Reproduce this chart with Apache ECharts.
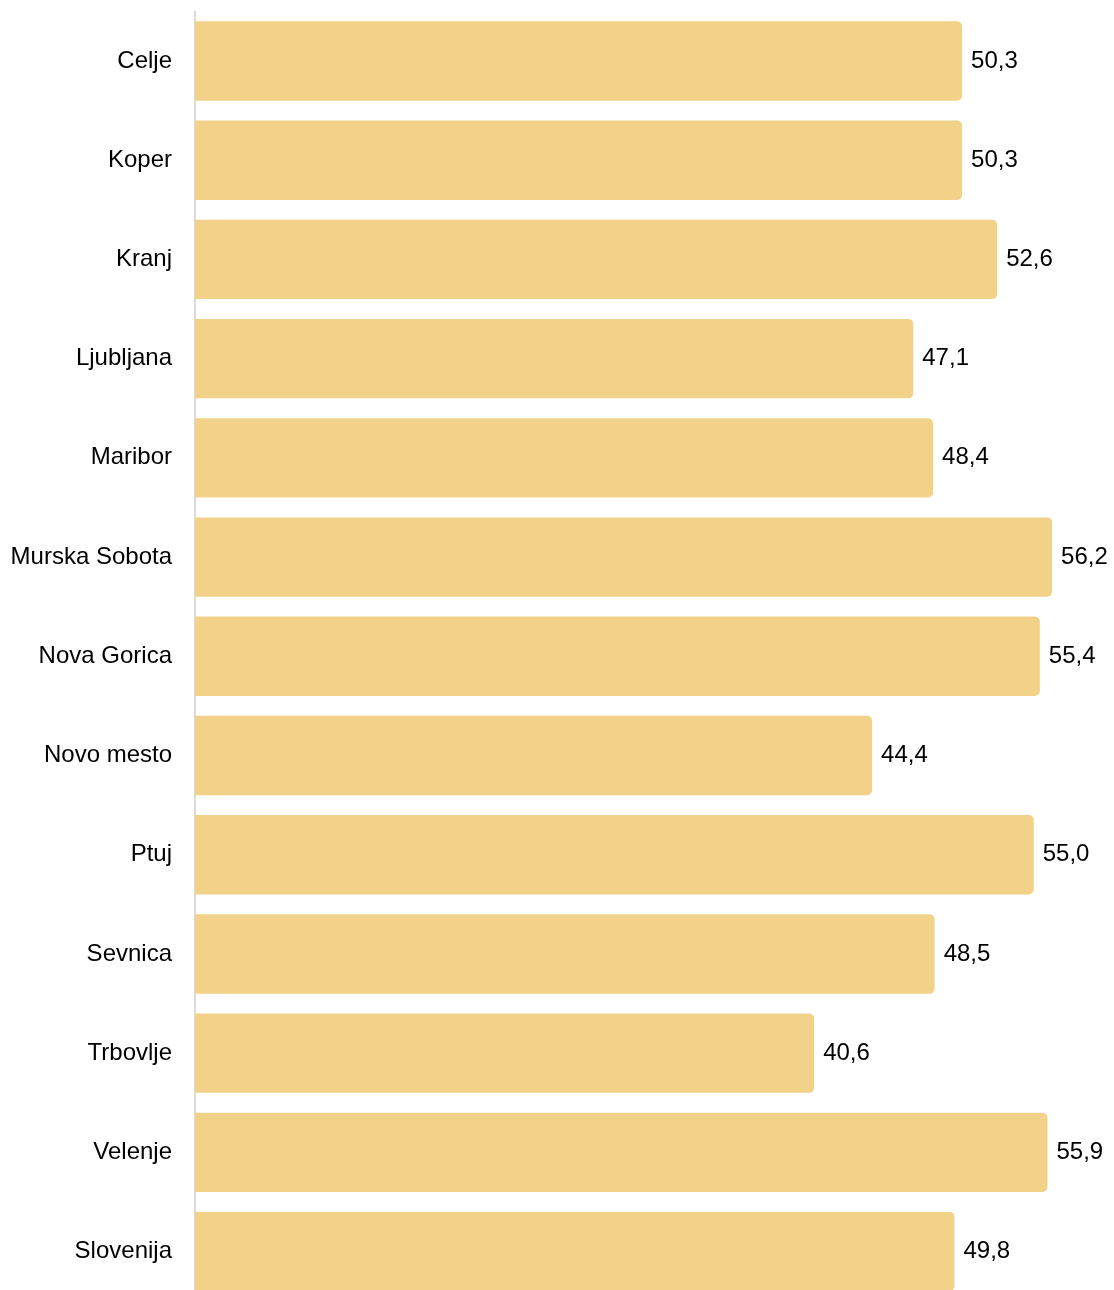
<!DOCTYPE html>
<html>
<head>
<meta charset="utf-8">
<script src="https://cdn.jsdelivr.net/npm/echarts@6/dist/echarts.min.js"></script>
<style>
html,body{margin:0;padding:0;background:#fff;}
#chart{width:1114px;height:1290px;}
</style>
</head>
<body>
<div id="chart"></div>
<script>
var categories = ["Celje","Koper","Kranj","Ljubljana","Maribor","Murska Sobota","Nova Gorica","Novo mesto","Ptuj","Sevnica","Trbovlje","Velenje","Slovenija"];
var values = [50.3,50.3,52.6,47.1,48.4,56.2,55.4,44.4,55.0,48.5,40.6,55.9,49.8];

var chart = echarts.init(document.getElementById('chart'));
var font = 'Arial, "Liberation Sans", Helvetica, sans-serif';
chart.setOption({
  animation: false,
  grid: {left: 195, right: 4, top: 11.4, bottom: -11.2, containLabel: false, outerBoundsMode: 'none'},
  xAxis: {
    type: 'value', min: 0, max: 60, show: false
  },
  yAxis: {
    type: 'category', data: categories, inverse: true,
    axisLine: {show: true, lineStyle: {color: '#dadada', width: 2}},
    axisTick: {show: false},
    axisLabel: {color: '#000', fontSize: 24, fontFamily: font, margin: 23, padding: [3,0,0,0]},
    splitLine: {show: false}
  },
  series: [{
    type: 'bar',
    data: values,
    barCategoryGap: '20%',
    itemStyle: {color: '#F2D289', borderRadius: [0,5,5,0]},
    label: {
      show: true, position: 'right', distance: 9,
      color: '#000', fontSize: 24, fontFamily: font, padding: [4,0,0,0],
      formatter: function(p){ return p.value.toFixed(1).replace('.', ','); }
    }
  }]
});
</script>
</body>
</html>
